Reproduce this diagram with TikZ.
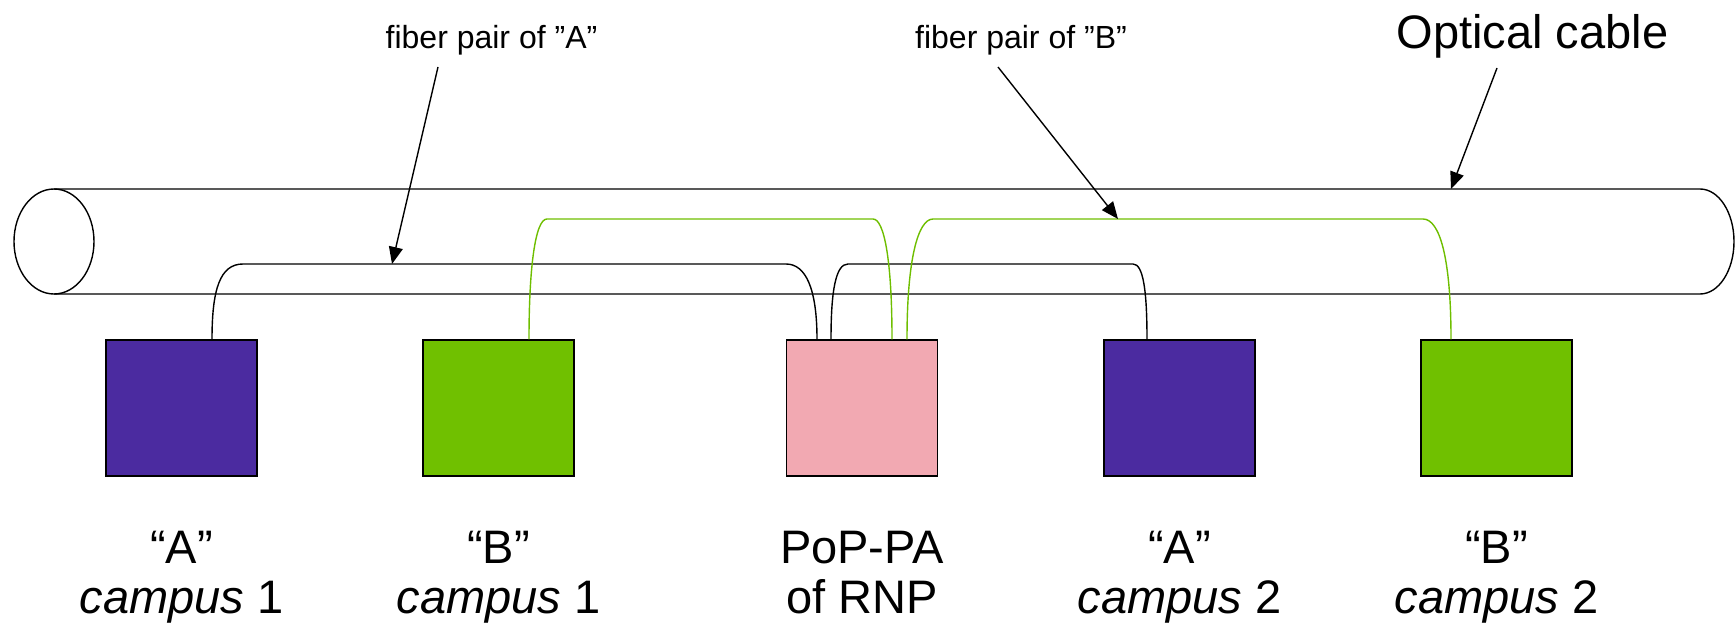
\documentclass[tikz,border=0pt]{standalone}
\usepackage{fontspec}
\setmainfont{Liberation Sans}
\usetikzlibrary{arrows.meta}
\definecolor{apurple}{RGB}{75,43,160}
\definecolor{bgreen}{RGB}{112,192,0}
\definecolor{popink}{RGB}{242,169,178}
\definecolor{fgreen}{RGB}{110,190,0}
\begin{document}
\begin{tikzpicture}[x=1pt,y=-1pt,
  site/.style={draw=black, line width=1.5pt, minimum width=151pt, minimum height=136pt, inner sep=0pt},
  fiberA/.style={draw=black, line width=1.4pt},
  fiberB/.style={draw=fgreen, line width=1.4pt},
  cable/.style={draw=black, line width=1.4pt},
  biglabel/.style={font=\fontsize{47}{50}\selectfont, align=center, inner sep=0pt, anchor=base},
  smalllabel/.style={font=\fontsize{32}{34}\selectfont, inner sep=0pt, anchor=base},
  pointer/.style={draw=black, line width=1.4pt, -{Triangle[length=17pt,width=14pt]}}]
\useasboundingbox (0,0) rectangle (1735,629);
% cable
\draw[cable] (54,241.5) ellipse [x radius=40pt, y radius=52.5pt];
\draw[cable] (54,189) -- (1700,189) arc[start angle=90, end angle=-90, x radius=34pt, y radius=52.5pt] -- (54,294);
% sites
\node[site, fill=apurple] (b1) at (181.5,408) {};
\node[site, fill=bgreen]  (b2) at (498.5,408) {};
\node[site, fill=popink]  (b3) at (862,408) {};
\node[site, fill=apurple] (b4) at (1179.5,408) {};
\node[site, fill=bgreen]  (b5) at (1496.5,408) {};
% fibers
\draw[fiberA] ([xshift=30.5pt]b1.north) .. controls +(0,-50) and (220,264) .. (243,264) -- (786,264)
  .. controls (806,264) and ([xshift=-45pt,yshift=50pt]b3.north) .. ([xshift=-45pt]b3.north);
\draw[fiberA] ([xshift=-31pt]b3.north) .. controls +(0,-50) and (836,264) .. (848,264) -- (1133,264)
  .. controls (1143,264) and ([xshift=-32.5pt,yshift=50pt]b4.north) .. ([xshift=-32.5pt]b4.north);
\draw[fiberB] ([xshift=30.5pt]b2.north) .. controls +(0,-70) and (535,219) .. (547,219) -- (873,219)
  .. controls (884,219) and ([xshift=30pt,yshift=80pt]b3.north) .. ([xshift=30pt]b3.north);
\draw[fiberB] ([xshift=45pt]b3.north) .. controls +(0,-80) and (918,219) .. (933,219) -- (1423,219)
  .. controls (1440,219) and ([xshift=-45.5pt,yshift=80pt]b5.north) .. ([xshift=-45.5pt]b5.north);
% site labels (base = baseline of the last line)
\node[biglabel] (l1) at (181.5,613) {“A”\\\textit{campus} 1};
\node[biglabel] (l2) at (498.5,613) {“B”\\\textit{campus} 1};
\node[biglabel] (l3) at (862,613) {PoP-PA\\of RNP};
\node[biglabel] (l4) at (1179.5,613) {“A”\\\textit{campus} 2};
\node[biglabel] (l5) at (1496.5,613) {“B”\\\textit{campus} 2};
% pointers
\node[smalllabel] (fa) at (491.5,48) {fiber pair of ”A”};
\node[smalllabel] (fb) at (1021,48) {fiber pair of ”B”};
\node[biglabel] (oc) at (1532.5,48) {Optical cable};
\coordinate (fas) at (438,67);
\coordinate (fat) at (392,264);
\coordinate (fbs) at (998,67);
\coordinate (fbt) at (1118,219);
\coordinate (ocs) at (1497,68);
\coordinate (oct) at (1451,189);
\draw[pointer] (fas) -- (fat);
\draw[pointer] (fbs) -- (fbt);
\draw[pointer] (ocs) -- (oct);
\end{tikzpicture}
\end{document}
